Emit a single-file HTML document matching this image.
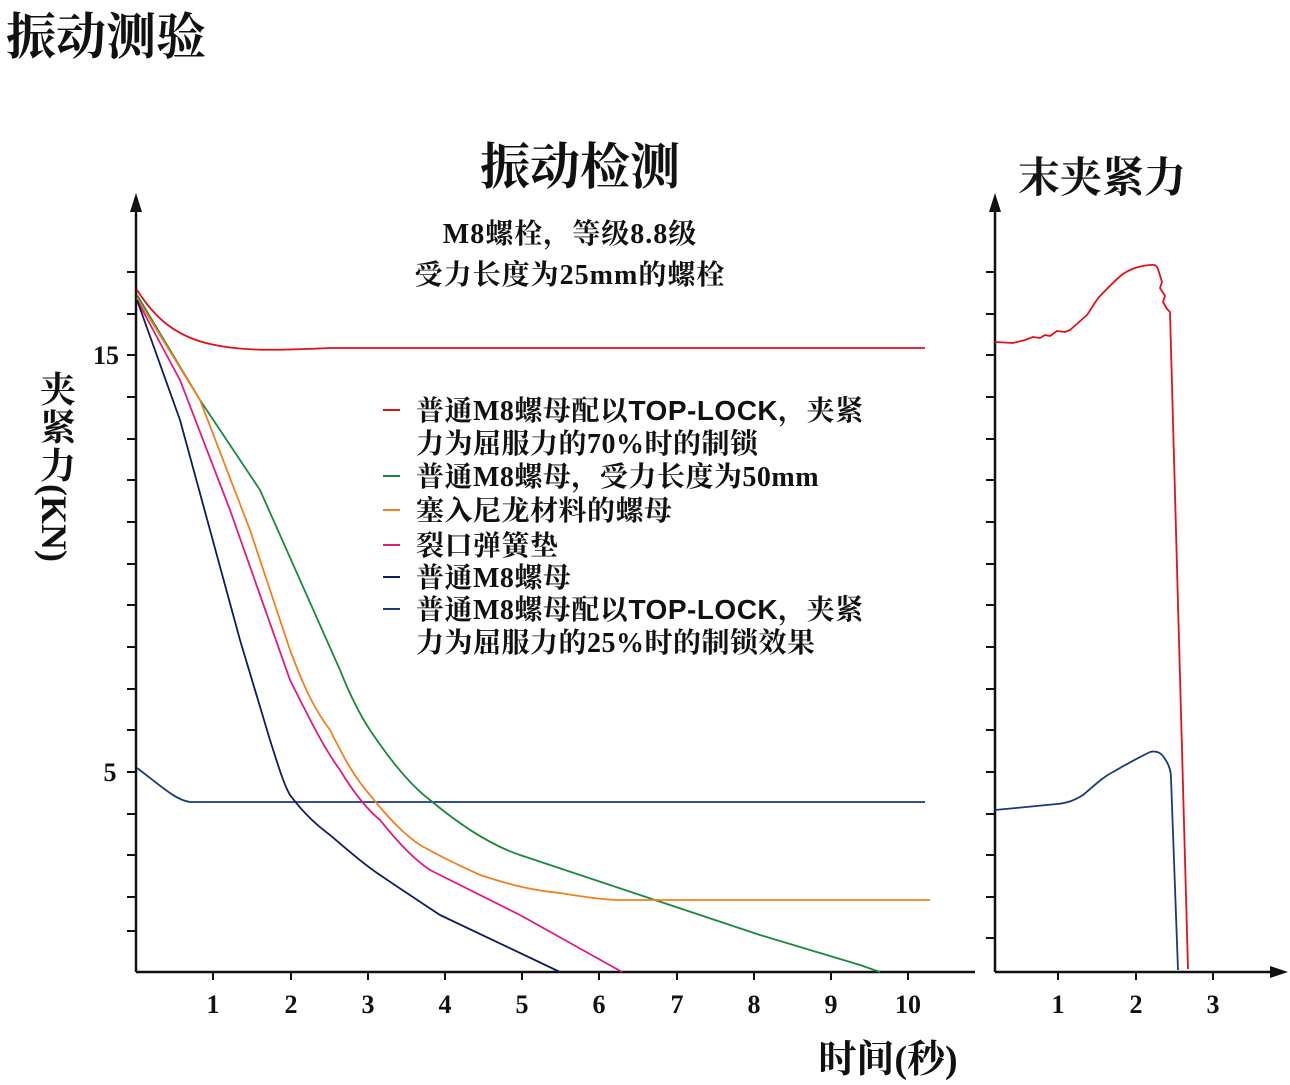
<!DOCTYPE html>
<html><head><meta charset="utf-8"><style>
html,body{margin:0;padding:0;background:#fff;}
svg{display:block;}
text{font-family:"Liberation Serif","Noto Serif CJK SC",serif;font-weight:bold;fill:#111;}
</style></head><body>
<svg width="1290" height="1085" viewBox="0 0 1290 1085" xmlns="http://www.w3.org/2000/svg">
<text x="6" y="54" font-size="50">振动测验</text>
<text x="580" y="184" font-size="50" text-anchor="middle">振动检测</text>
<text x="570" y="243" font-size="28" text-anchor="middle" letter-spacing="1">M8螺栓，等级8.8级</text>
<text x="570" y="284" font-size="28" text-anchor="middle" letter-spacing="1">受力长度为25mm的螺栓</text>
<text x="1102" y="192" font-size="42" text-anchor="middle">末夹紧力</text>
<text x="888" y="1072" font-size="38" text-anchor="middle">时间(秒)</text>
<g font-size="36">
<text x="40" y="402">夹</text><text x="40" y="440">紧</text><text x="40" y="478">力</text>
<text transform="translate(42,484) rotate(90)" font-size="36">(KN)</text>
</g>
<g stroke="#111" stroke-width="2.5" fill="none">
<line x1="136" y1="972" x2="136" y2="205"/>
<line x1="136" y1="972" x2="975" y2="972"/>
<line x1="995" y1="972" x2="995" y2="205"/>
<line x1="995" y1="972" x2="1275" y2="972"/>
</g>
<polygon points="136,193 130,212 142,212" fill="#111"/>
<polygon points="995,193 989,212 1001,212" fill="#111"/>
<polygon points="1288,972 1270,966 1270,978" fill="#111"/>
<g stroke="#111" stroke-width="2">
<path d="M127 272H136M127 314H136M127 355H136M127 397H136M127 439H136M127 480H136M127 522H136M127 564H136M127 605H136M127 647H136M127 689H136M127 730H136M127 772H136M127 814H136M127 855H136M127 897H136M127 931H136"/>
<path d="M986 272H995M986 314H995M986 355H995M986 397H995M986 439H995M986 480H995M986 522H995M986 564H995M986 605H995M986 647H995M986 689H995M986 730H995M986 772H995M986 814H995M986 855H995M986 897H995M986 938H995"/>
<path d="M213 972V980M291 972V980M368 972V980M445 972V980M522 972V980M599 972V980M677 972V980M754 972V980M831 972V980M908 972V980M1058 972V980M1136 972V980M1213 972V980"/>
</g>
<g font-size="26" text-anchor="middle">
<text x="213" y="1013">1</text><text x="291" y="1013">2</text><text x="368" y="1013">3</text><text x="445" y="1013">4</text><text x="522" y="1013">5</text><text x="599" y="1013">6</text><text x="677" y="1013">7</text><text x="754" y="1013">8</text><text x="831" y="1013">9</text><text x="908" y="1013">10</text>
<text x="1058" y="1013">1</text><text x="1136" y="1013">2</text><text x="1213" y="1013">3</text>
<text x="106" y="364">15</text><text x="110" y="781">5</text>
</g>
<g fill="none" stroke-width="1.8" stroke-linejoin="round">
<path stroke="#e0101e" d="M137 290C155 318 175 336 210 344S280 350 330 348L925 348"/>
<path stroke="#1a3a78" d="M137 768C160 785 175 800 190 802L925 802"/>
<path stroke="#1a8a3a" d="M137 295L200 400L260 490L340 670C350 695 360 715 370 730C390 760 410 785 430 800C460 825 490 845 520 855L640 895L760 935L860 965L880 972"/>
<path stroke="#f08020" d="M137 298L200 400L250 530L290 650C305 690 315 710 330 730C345 760 355 778 370 795C390 820 405 835 420 845C450 862 470 870 480 875C520 888 540 891 560 893C590 898 610 900 620 900L930 900"/>
<path stroke="#e01a80" d="M137 300L180 380L230 510L290 680C310 720 325 750 340 770C355 795 368 810 380 820C400 845 415 860 430 870L520 915L622 972"/>
<path stroke="#0e1d5c" d="M137 300L180 420L240 640L270 740C278 765 284 785 290 795C305 815 318 826 330 835C350 852 365 865 380 875C405 892 425 905 440 915L560 972"/>
<path stroke="#e0101e" d="M995 342L1013 343L1025 340L1033 337L1040 338L1045 335L1050 336L1057 331L1065 332L1070 330L1087 315C1092 308 1096 300 1100 296C1108 288 1115 280 1123 274C1132 268 1140 266 1150 265C1155 264 1157 266 1158 269L1162 282L1160 288L1165 296L1163 302L1167 309L1170 312L1188 969"/>
<path stroke="#1a3a78" d="M995 810L1057 804C1068 803 1075 800 1083 795C1095 785 1103 777 1113 772C1130 762 1140 757 1150 752C1158 750 1162 754 1165 759C1170 766 1171 772 1171 778L1178 970"/>
</g>
<g stroke-width="2">
<line x1="383" y1="410" x2="400" y2="410" stroke="#e0101e"/>
<line x1="383" y1="476" x2="400" y2="476" stroke="#1a8a3a"/>
<line x1="383" y1="510" x2="400" y2="510" stroke="#f08020"/>
<line x1="383" y1="545" x2="400" y2="545" stroke="#e01a80"/>
<line x1="383" y1="577" x2="400" y2="577" stroke="#0e1d5c"/>
<line x1="383" y1="609" x2="400" y2="609" stroke="#1a3a78"/>
</g>
<g font-size="28" letter-spacing="0.5">
<text x="416" y="420">普通M8螺母配以<tspan font-family="Liberation Sans,sans-serif" font-weight="900">TOP-LOCK</tspan>，夹紧</text>
<text x="416" y="453">力为屈服力的70%时的制锁</text>
<text x="416" y="486">普通M8螺母，受力长度为50mm</text>
<text x="416" y="520">塞入尼龙材料的螺母</text>
<text x="416" y="555">裂口弹簧垫</text>
<text x="416" y="587">普通M8螺母</text>
<text x="416" y="619">普通M8螺母配以<tspan font-family="Liberation Sans,sans-serif" font-weight="900">TOP-LOCK</tspan>，夹紧</text>
<text x="416" y="652">力为屈服力的25%时的制锁效果</text>
</g>
</svg>
</body></html>
